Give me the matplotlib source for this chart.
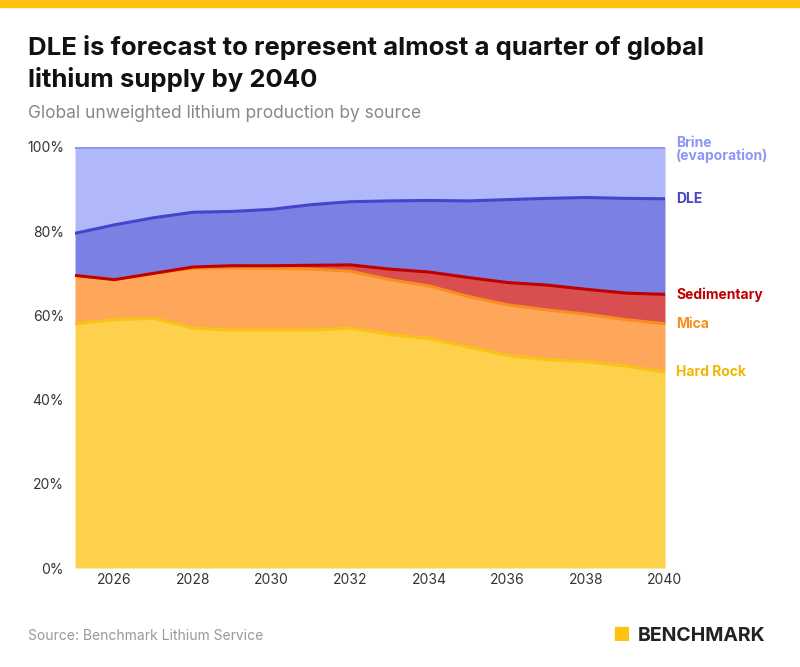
import matplotlib.pyplot as plt
import numpy as np

years = list(range(2025, 2041))
# cumulative tops (%)
hard_rock = [58, 59, 59.3, 57, 56.5, 56.5, 56.5, 57, 55.5, 54.5, 52.5, 50.5, 49.5, 49, 48, 46.5]
mica = [69.5, 68.5, 70, 71.2, 71.3, 71.2, 71, 70.5, 68.5, 67, 64.5, 62.5, 61.3, 60.3, 59, 58]
sedimentary = [69.5, 68.5, 70, 71.5, 71.8, 71.8, 71.9, 72, 71, 70.3, 69, 67.8, 67.2, 66.2, 65.3, 65]
dle = [79.5, 81.5, 83.2, 84.5, 84.7, 85.2, 86.3, 87, 87.2, 87.3, 87.2, 87.5, 87.8, 88, 87.8, 87.7]
brine = [100] * 16

layers = [
    ("Hard Rock", hard_rock, "#FDD14B", "#F9C315", "#F2B705"),
    ("Mica", mica, "#FEA75A", "#F98E20", "#F98E20"),
    ("Sedimentary", sedimentary, "#D94F4F", "#C00000", "#C00000"),
    ("DLE", dle, "#7B80E3", "#4444CC", "#4444CC"),
    ("Brine\n(evaporation)", brine, "#B0B7FA", "#8F96F4", "#8F96F4"),
]

plt.rcParams['font.family'] = ['Inter', 'DejaVu Sans']
fig = plt.figure(figsize=(8, 6.67), dpi=100)
ax = fig.add_axes([75 / 800, 1 - 568 / 667, 590 / 800, 421 / 667])

x = np.array(years)
prev = np.zeros(len(years))
for name, top, fill, line, lab in layers:
    top = np.array(top, dtype=float)
    ax.fill_between(x, prev, top, color=fill, lw=0)
    prev = top
for name, top, fill, line, lab in layers:
    ax.plot(x, top, color=line, lw=2.2)
    ax.annotate(name, (x[-1], top[-1]), xytext=(8, -2 if '\n' in name else 0),
                textcoords='offset points', va='center', ha='left',
                color=lab, fontsize=10, fontweight='bold', linespacing=0.9,
                annotation_clip=False)

ax.set_xlim(2025, 2040)
ax.set_ylim(0, 100)
ax.set_xticks(range(2026, 2041, 2))
ax.set_yticks(range(0, 101, 20))
ax.set_yticklabels([f"{v}%" for v in range(0, 101, 20)])
ax.tick_params(length=0, labelsize=10, colors='#333333')
ax.tick_params(axis='y', pad=8)
for s in ax.spines.values():
    s.set_visible(False)

fig.patches.append(plt.Rectangle((0, 1 - 7 / 667), 1, 7 / 667, transform=fig.transFigure,
                                 color='#FDC10E'))
fig.text(28 / 800, 1 - 48 / 667, "DLE is forecast to represent almost a quarter of global",
         fontsize=18.5, fontweight='bold', color='#111111', va='center')
fig.text(28 / 800, 1 - 80 / 667, "lithium supply by 2040",
         fontsize=18.5, fontweight='bold', color='#111111', va='center')
fig.text(28 / 800, 1 - 113 / 667, "Global unweighted lithium production by source",
         fontsize=12.5, color='#888888', va='center')
fig.text(28 / 800, 1 - 636 / 667, "Source: Benchmark Lithium Service",
         fontsize=10, color='#999999', va='center')
fig.text(765 / 800, 1 - 636 / 667, "BENCHMARK", fontsize=14, fontweight='bold',
         color='#222222', va='center', ha='right')
fig.text(612 / 800, 1 - 636 / 667, "\u25A0", fontsize=14, color='#FDC10E', va='center')

fig.savefig('out.png', dpi=100)
